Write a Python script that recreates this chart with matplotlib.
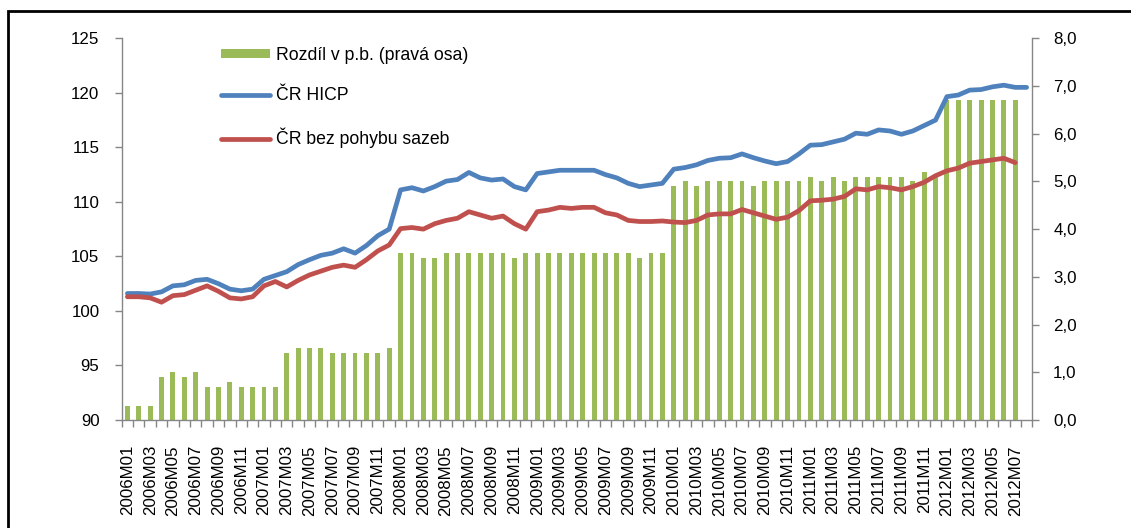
import numpy as np
import matplotlib
matplotlib.use("Agg")
import matplotlib.pyplot as plt
from matplotlib.patches import Rectangle
from matplotlib.lines import Line2D

plt.rcParams['font.family'] = ['Liberation Sans', 'DejaVu Sans']

# ---- data ----
years = list(range(2006, 2013))
months = [f"{y}M{m:02d}" for y in years for m in range(1, 13)]
months = months[:80]  # 2006M01 .. 2012M08

rozdil = [0.3, 0.3, 0.3, 0.9, 1.0, 0.9, 1.0, 0.7, 0.7, 0.8, 0.7, 0.7,
          0.7, 0.7, 1.4, 1.5, 1.5, 1.5, 1.4, 1.4, 1.4, 1.4, 1.4, 1.5,
          3.5, 3.5, 3.4, 3.4, 3.5, 3.5, 3.5, 3.5, 3.5, 3.5, 3.4, 3.5,
          3.5, 3.5, 3.5, 3.5, 3.5, 3.5, 3.5, 3.5, 3.5, 3.4, 3.5, 3.5,
          4.9, 5.0, 4.9, 5.0, 5.0, 5.0, 5.0, 4.9, 5.0, 5.0, 5.0, 5.0,
          5.1, 5.0, 5.1, 5.0, 5.1, 5.1, 5.1, 5.1, 5.1, 5.0, 5.2, 5.1,
          6.7, 6.7, 6.7, 6.7, 6.7, 6.7, 6.7, np.nan]

hicp = [101.6, 101.6, 101.55, 101.75, 102.3, 102.4, 102.8, 102.9, 102.5, 102.0, 101.85, 102.0,
        102.9, 103.25, 103.6, 104.25, 104.7, 105.1, 105.3, 105.7, 105.3, 106.0, 106.9, 107.5,
        111.1, 111.3, 111.0, 111.4, 111.9, 112.05, 112.7, 112.2, 112.0, 112.1, 111.4, 111.1,
        112.6, 112.75, 112.9, 112.9, 112.9, 112.9, 112.5, 112.2, 111.7, 111.4, 111.55, 111.7,
        113.0, 113.15, 113.4, 113.8, 114.0, 114.05, 114.4, 114.05, 113.75, 113.5, 113.7, 114.4,
        115.2, 115.25, 115.5, 115.75, 116.3, 116.2, 116.6, 116.5, 116.2, 116.5, 117.0, 117.5,
        119.65, 119.8, 120.25, 120.3, 120.55, 120.7, 120.5, 120.5]

bez_sazeb = [101.3, 101.3, 101.2, 100.8, 101.4, 101.5, 101.9, 102.3, 101.8, 101.2, 101.1, 101.3,
             102.3, 102.7, 102.2, 102.8, 103.3, 103.65, 104.0, 104.2, 104.0, 104.7, 105.5, 106.05,
             107.55, 107.65, 107.5, 108.0, 108.3, 108.5, 109.1, 108.8, 108.5, 108.7, 108.0, 107.5,
             109.1, 109.25, 109.5, 109.4, 109.5, 109.5, 109.0, 108.8, 108.3, 108.2, 108.2, 108.25,
             108.15, 108.1, 108.3, 108.8, 108.9, 108.9, 109.3, 109.0, 108.7, 108.4, 108.6, 109.2,
             110.1, 110.15, 110.25, 110.5, 111.2, 111.1, 111.4, 111.3, 111.1, 111.4, 111.8, 112.4,
             112.85, 113.1, 113.55, 113.7, 113.85, 114.0, 113.6, np.nan]

left_ticks = [90, 95, 100, 105, 110, 115, 120, 125]
right_ticks = [0, 1, 2, 3, 4, 5, 6, 7, 8]

GREEN = '#9BBB59'
BLUE = '#4F81BD'
RED = '#C0504D'
GRAY = '#868686'

W, H = 1131, 528
fig = plt.figure(figsize=(W / 100, H / 100), dpi=100)
ax = fig.add_axes([121.7 / W, 1 - 420 / H, (1032.3 - 121.7) / W, (420 - 38.3) / H])
ax2 = ax.twinx()

x = np.arange(len(months))

# bars on secondary (right) axis
bars = ax2.bar(x, rozdil, width=0.43, color=GREEN, label='Rozdíl v p.b. (pravá osa)')
ax2.set_ylim(0, 8)
ax2.set_yticks(right_ticks)
ax2.set_yticklabels([f"{v:.1f}".replace('.', ',') for v in right_ticks])

# lines on primary (left) axis, drawn above bars
ax.set_zorder(ax2.get_zorder() + 1)
ax.patch.set_visible(False)
l1, = ax.plot(x, hicp, color=BLUE, lw=3.4, solid_capstyle='round', label='ČR HICP')
l2, = ax.plot(x, bez_sazeb, color=RED, lw=3.4, solid_capstyle='round', label='ČR bez pohybu sazeb')
ax.set_ylim(90, 125)
ax.set_yticks(left_ticks)
ax.set_xlim(-0.5, len(months) - 0.5)

# x ticks: labels every second month, tick marks at category boundaries
ax.set_xticks(x[::2])
ax.set_xticklabels(months[::2], rotation=90)
ax.set_xticks(np.arange(-0.5, len(months), 1.0), minor=True)
ax.tick_params(axis='x', which='major', length=0, pad=18, labelsize=12.2, colors='black')
ax.tick_params(axis='x', which='minor', length=5, width=1, color=GRAY, direction='out')
ax.tick_params(axis='y', which='major', length=5, width=1, color=GRAY, pad=11, labelsize=12.2,
               labelcolor='black')
ax2.tick_params(axis='y', which='major', length=5, width=1, color=GRAY, pad=10, labelsize=12.2,
                labelcolor='black')

for a in (ax, ax2):
    a.spines['top'].set_visible(False)
    for s in ('left', 'right', 'bottom'):
        a.spines[s].set_color(GRAY)
        a.spines[s].set_linewidth(1)
ax.spines['right'].set_visible(False)
ax2.spines['left'].set_visible(False)
ax2.spines['bottom'].set_visible(False)

# legend
handles = [bars, l1, l2]
labels = [h.get_label() for h in handles]
leg = ax.legend(handles, labels, loc='upper left',
                bbox_to_anchor=(221 / W, 1 - 47 / H), bbox_transform=fig.transFigure,
                frameon=False, fontsize=12.7, handlelength=2.75, handleheight=0.45,
                handletextpad=0.35, labelspacing=1.33, borderpad=0, borderaxespad=0)

# outer frame (left and top edges visible)
fig.patches.append(Rectangle((8 / W, -0.2), 1.5, 1.2 - 10.7 / H, transform=fig.transFigure,
                             fill=False, edgecolor='black', linewidth=2))

fig.savefig('out.png', dpi=100)
